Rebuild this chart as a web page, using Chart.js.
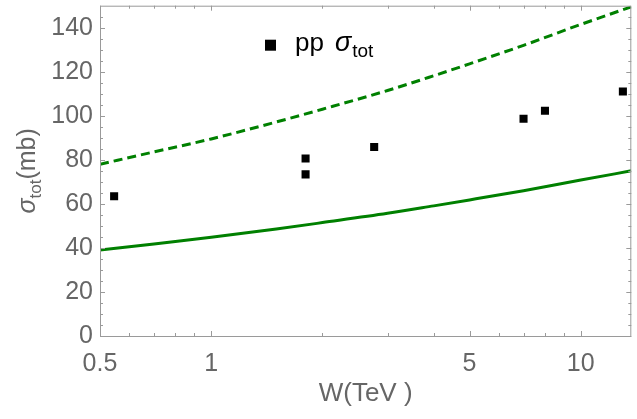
<!DOCTYPE html>
<html>
<head>
<meta charset="utf-8">
<script src="https://cdn.jsdelivr.net/npm/chart.js@4/dist/chart.umd.min.js"></script>
<style>
  html, body { margin: 0; padding: 0; background: #fff; }
</style>
</head>
<body>
<canvas id="sigmaChart" width="637" height="419"></canvas>
<script>
// measured pp total cross sections (TeV, mb)
const energies = [0.546, 1.8, 1.8, 2.76, 7, 8, 13];
const sigmaTot = [63.5, 80.6, 73.4, 85.8, 98.7, 102.3, 111.0];

// model curves, lower (solid) and upper (dashed) bands
const curveW = [0.5, 0.7, 1, 1.5, 2, 3, 4, 5, 7, 10, 13.7];
const sigmaLower = [39.0, 41.8, 44.8, 48.6, 51.5, 55.7, 59.1, 61.8, 66.0, 70.8, 75.0];
const sigmaUpper = [78.0, 83.6, 89.5, 97.2, 103.0, 111.5, 118.2, 123.6, 132.0, 141.5, 149.5];

const xMajorTicks = [0.5, 1, 5, 10];
const xMinorTicks = [0.6, 0.7, 0.8, 0.9, 2, 3, 4, 6, 7, 8, 9];
const yMajorTicks = [0, 20, 40, 60, 80, 100, 120, 140];
const yMinorTicks = [5, 10, 15, 25, 30, 35, 45, 50, 55, 65, 70, 75, 85, 90, 95,
                     105, 110, 115, 125, 130, 135, 145];

const green = '#008000';
const axisGray = '#9a9a9a';
const labelGray = '#666666';
const fontFamily = '"Liberation Sans", Arial, sans-serif';

const toPoints = (xs, ys) => xs.map((x, i) => ({ x: x, y: ys[i] }));

// frame with inward ticks on all four sides, plus legend and y title
const framePlugin = {
    id: 'frame',
    afterDraw(chart) {
        const { ctx, chartArea: a, scales: { x, y } } = chart;
        ctx.save();
        ctx.strokeStyle = axisGray;
        ctx.lineWidth = 1;
        ctx.strokeRect(a.left + 0.5, a.top + 0.5, a.right - a.left - 1, a.bottom - a.top);

        const tick = (x1, y1, x2, y2) => {
            ctx.beginPath();
            ctx.moveTo(x1, y1);
            ctx.lineTo(x2, y2);
            ctx.stroke();
        };
        const xTicks = (vals, len) => vals.forEach(v => {
            const px = Math.round(x.getPixelForValue(v)) + 0.5;
            tick(px, a.bottom, px, a.bottom - len);
            tick(px, a.top, px, a.top + len);
        });
        const yTicks = (vals, len) => vals.forEach(v => {
            const py = Math.round(y.getPixelForValue(v)) + 0.5;
            tick(a.left, py, a.left + len, py);
            tick(a.right, py, a.right - len, py);
        });
        xTicks(xMajorTicks, 5);
        xTicks(xMinorTicks, 3);
        yTicks(yMajorTicks, 5);
        yTicks(yMinorTicks, 3);

        // legend
        ctx.fillStyle = '#000';
        ctx.fillRect(a.left + 165, a.top + 34, 11, 11);
        ctx.textBaseline = 'alphabetic';
        ctx.textAlign = 'left';
        let lx = a.left + 195;
        const ly = a.top + 45;
        ctx.font = '26px ' + fontFamily;
        ctx.fillText('pp', lx, ly);
        lx += ctx.measureText('pp').width + 11;
        ctx.font = 'italic 27px ' + fontFamily;
        ctx.fillText('σ', lx, ly);
        lx += ctx.measureText('σ').width + 1;
        ctx.font = '19px ' + fontFamily;
        ctx.fillText('tot', lx, ly + 6);

        // y axis title
        ctx.fillStyle = labelGray;
        ctx.translate(27, (a.top + a.bottom) / 2);
        ctx.rotate(-Math.PI / 2);
        const parts = [
            { t: 'σ', f: 'italic 25px ' + fontFamily, dy: 0 },
            { t: 'tot', f: '17px ' + fontFamily, dy: 6 },
            { t: '(mb)', f: '25px ' + fontFamily, dy: 0 }
        ];
        let total = 0;
        parts.forEach(p => { ctx.font = p.f; p.w = ctx.measureText(p.t).width; total += p.w; });
        let tx = -total / 2;
        parts.forEach(p => {
            ctx.font = p.f;
            ctx.fillText(p.t, tx, 8 + p.dy);
            tx += p.w;
        });
        ctx.restore();
    }
};

new Chart(document.getElementById('sigmaChart'), {
    type: 'scatter',
    data: {
        datasets: [
            {
                label: 'upper',
                type: 'line',
                data: toPoints(curveW, sigmaUpper),
                borderColor: green,
                borderWidth: 3,
                borderDash: [9, 5],
                pointRadius: 0,
                cubicInterpolationMode: 'monotone',
                fill: false
            },
            {
                label: 'lower',
                type: 'line',
                data: toPoints(curveW, sigmaLower),
                borderColor: green,
                borderWidth: 3,
                pointRadius: 0,
                cubicInterpolationMode: 'monotone',
                fill: false
            },
            {
                label: 'pp σtot',
                data: toPoints(energies, sigmaTot),
                pointStyle: 'rect',
                pointRadius: 5.7,
                pointBorderWidth: 0,
                backgroundColor: '#000',
                borderColor: '#000'
            }
        ]
    },
    options: {
        responsive: false,
        animation: false,
        layout: { padding: { top: 3, right: 2, left: 0, bottom: 0 } },
        plugins: {
            legend: { display: false },
            tooltip: { enabled: false }
        },
        scales: {
            x: {
                type: 'logarithmic',
                min: 0.5,
                max: 13.7,
                grid: { display: false, drawTicks: false },
                border: { display: false },
                afterBuildTicks: s => { s.ticks = xMajorTicks.map(v => ({ value: v })); },
                afterFit: s => {
                    s.height = 83;
                    s.paddingLeft = 0;
                    s.paddingRight = 0;
                },
                ticks: {
                    autoSkip: false,
                    maxRotation: 0,
                    padding: 13,
                    color: labelGray,
                    font: { family: fontFamily, size: 25 },
                    callback: v => String(v)
                },
                title: {
                    display: true,
                    text: 'W(TeV )',
                    color: labelGray,
                    font: { family: fontFamily, size: 26 },
                    padding: { top: 0, bottom: 10 }
                }
            },
            y: {
                min: 0,
                max: 150,
                grid: { display: false, drawTicks: false },
                border: { display: false },
                afterBuildTicks: s => { s.ticks = yMajorTicks.map(v => ({ value: v })); },
                afterFit: s => {
                    s.width = 100;
                    s.paddingTop = 0;
                    s.paddingBottom = 0;
                },
                ticks: {
                    padding: 7,
                    color: labelGray,
                    font: { family: fontFamily, size: 25 }
                }
            }
        }
    },
    plugins: [framePlugin]
});
</script>
</body>
</html>
